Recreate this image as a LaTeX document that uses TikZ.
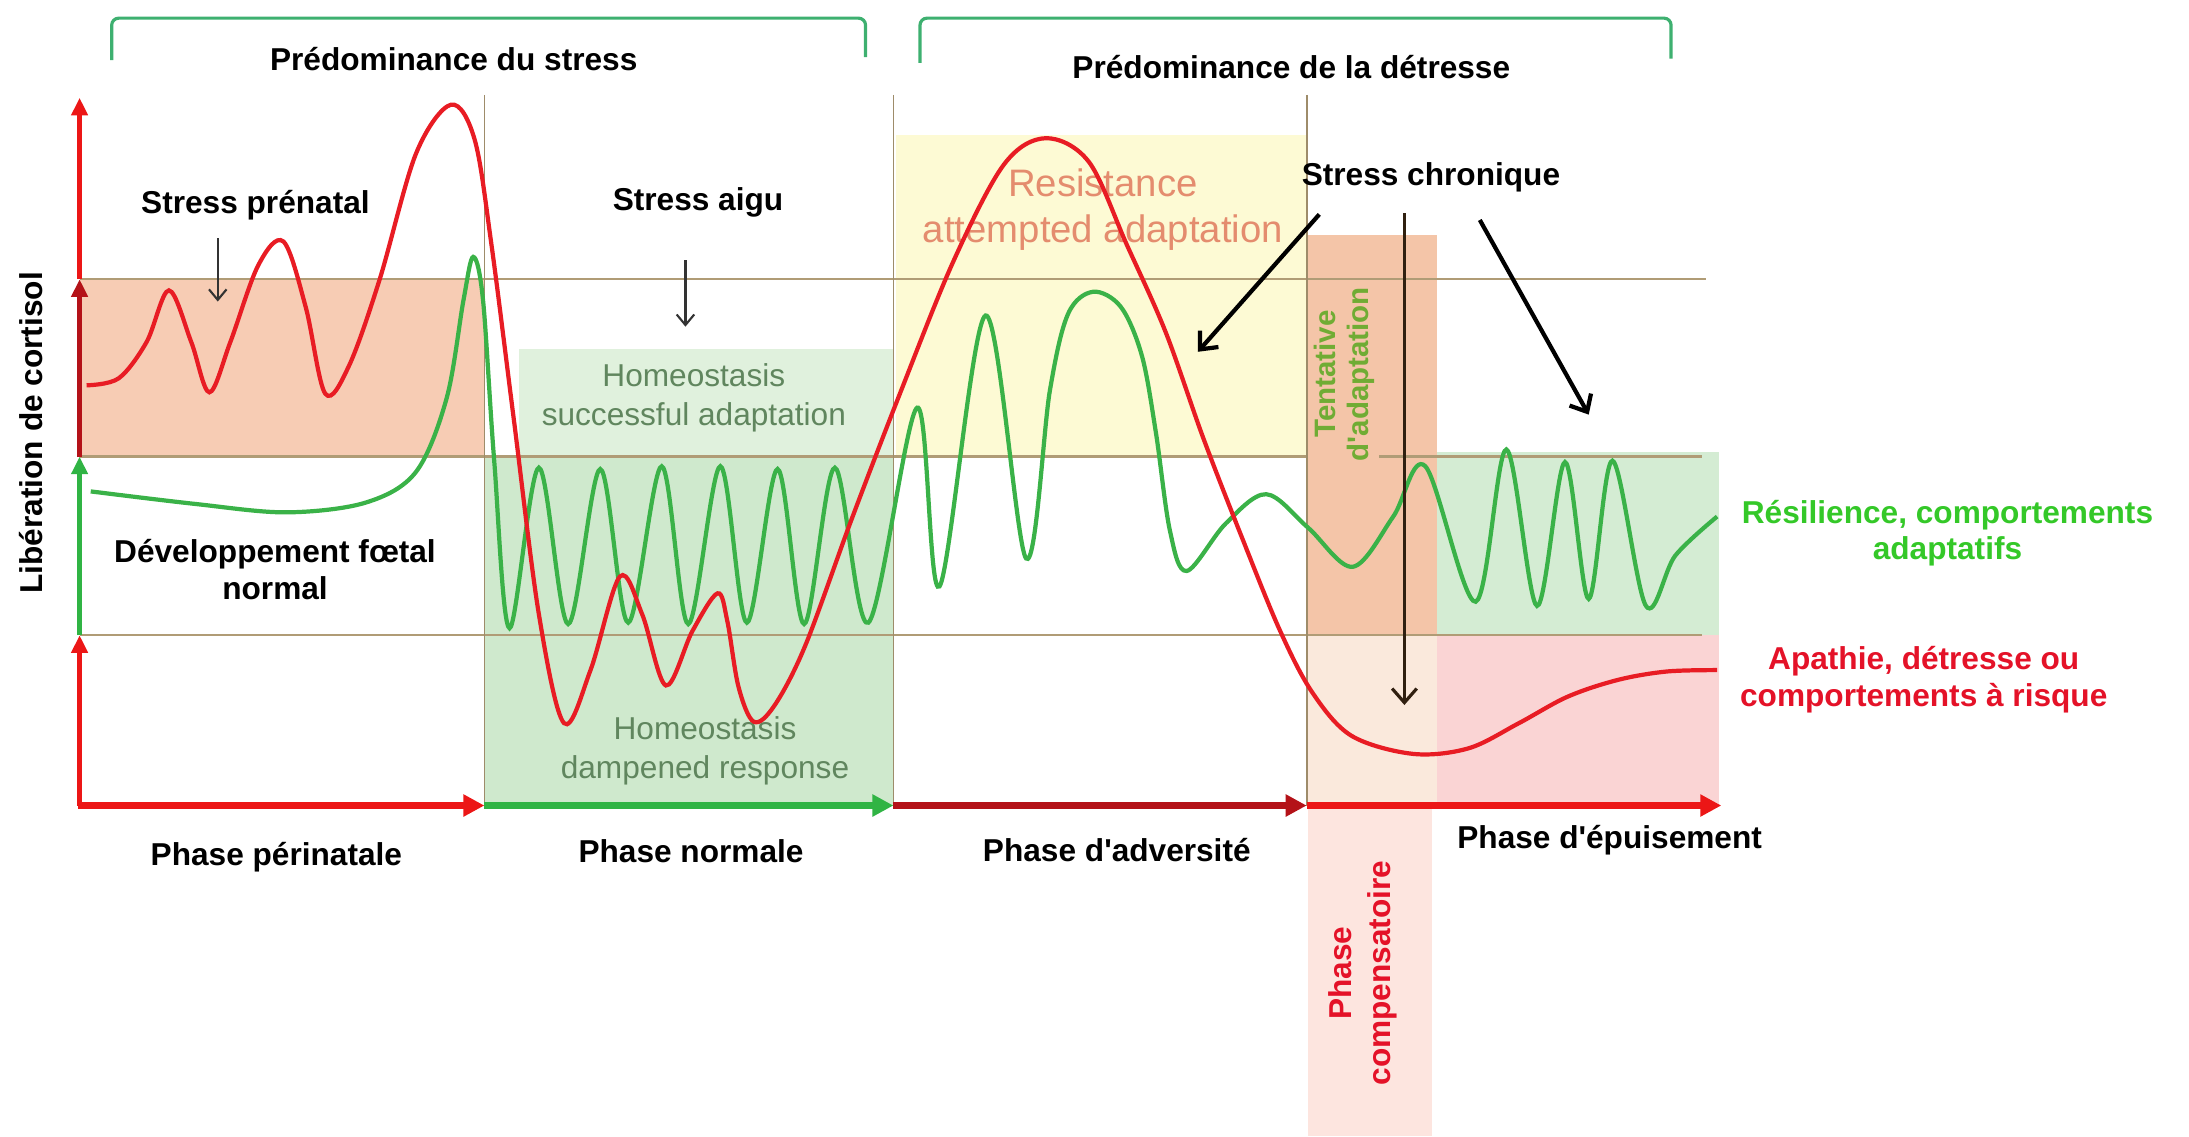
\documentclass[tikz,border=0pt]{standalone}
\usepackage{fontspec}
\setmainfont{Liberation Sans}
\usetikzlibrary{arrows.meta,calc}

\definecolor{curvered}{RGB}{232,28,36}
\definecolor{curvegreen}{RGB}{58,178,72}
\definecolor{axisred}{RGB}{236,22,22}
\definecolor{axisdark}{RGB}{180,18,24}
\definecolor{axisgreen}{RGB}{48,180,68}
\definecolor{guidecol}{RGB}{176,156,118}
\definecolor{bracketcol}{RGB}{62,176,112}
\definecolor{periorange}{RGB}{247,204,180}
\definecolor{homeolight}{RGB}{224,241,221}
\definecolor{homeodark}{RGB}{207,233,205}
\definecolor{resistyellow}{RGB}{253,250,212}
\definecolor{tentorange}{RGB}{244,197,168}
\definecolor{tentbeige}{RGB}{250,233,220}
\definecolor{comppink}{RGB}{253,229,223}
\definecolor{resilgreen}{RGB}{212,236,211}
\definecolor{apathpink}{RGB}{250,212,212}
\definecolor{homeotext}{RGB}{96,134,94}
\definecolor{resisttext}{RGB}{228,140,110}
\definecolor{tenttext}{RGB}{112,172,52}
\definecolor{resiltext}{RGB}{52,200,40}
\definecolor{apathtext}{RGB}{228,18,40}

% cortisol levels and time axis
\newcommand{\levelHigh}{200}
\newcommand{\levelMid}{327}
\newcommand{\levelLow}{455}
\newcommand{\baseY}{577}
\newcommand{\apos}{\textquotesingle}

\tikzset{
  lbl/.style={font=\fontsize{9}{10.4}\selectfont\bfseries, align=center, inner sep=1pt},
  homeo/.style={font=\fontsize{9}{11}\selectfont, text=homeotext, align=center, inner sep=1pt},
  guide/.style={draw=guidecol, line width=0.6pt},
  divider/.style={draw=guidecol!90!black, line width=0.5pt},
  bracket/.style={draw=bracketcol, line width=0.9pt, rounded corners=2pt},
  yaxis/.style={line width=1.3pt, -{Triangle[length=5pt,width=4.5pt]}},
  xaxis/.style={line width=1.8pt, -{Triangle[length=6pt,width=6pt]}},
  curve/.style={line width=1.2pt, smooth, tension=0.55},
  pointer/.style={draw=black!80, line width=0.6pt, -{Straight Barb[length=3pt,width=5pt]}},
  chronic/.style={line width=1.2pt, -{Straight Barb[length=4pt,width=7pt]}},
}

\begin{document}
\begin{tikzpicture}[x=0.01396cm, y=-0.01396cm]
  \useasboundingbox (0,0) rectangle (1568,814);

  % zones
  \fill[periorange] (57,\levelHigh) rectangle (347,\levelMid);
  \fill[homeolight] (372,250) rectangle (640,\levelMid);
  \fill[homeodark] (347,\levelMid) rectangle (640,\baseY);
  \fill[resistyellow] (642,97) rectangle (936,\levelMid);
  \fill[tentorange] (936,168) rectangle (1029,\levelLow);
  \fill[tentbeige] (936,\levelLow) rectangle (1029,\baseY);
  \fill[comppink] (937,\baseY) rectangle (1026,814);
  \fill[resilgreen] (1029,324) rectangle (1231,\levelLow);
  \fill[apathpink] (1029,\levelLow) rectangle (1231,\baseY);

  \draw[guide] (57,\levelHigh) -- (1222,\levelHigh);
  \draw[guide] (57,\levelMid) -- (936,\levelMid) (988,\levelMid) -- (1219,\levelMid);
  \draw[guide] (57,\levelLow) -- (1219,\levelLow);
  \foreach \x in {347,640,936}
    \draw[divider] (\x,68) -- (\x,\baseY);

  \draw[bracket] (80,43) -- (80,13) -- (620,13) -- (620,41);
  \draw[bracket] (659,45) -- (659,13) -- (1197,13) -- (1197,42);

  \node[homeo] (homeoA) at (497,285) {Homeostasis\\successful adaptation};
  \node[homeo] (homeoB) at (505,538) {Homeostasis\\dampened response};
  \node[homeo, font=\fontsize{10.9}{13}\selectfont, text=resisttext] (resistance) at (790,150)
    {Resistance\\attempted adaptation};
  \node[lbl, font=\fontsize{8.4}{9.2}\selectfont\bfseries, text=tenttext, rotate=90] (tentative)
    at (963,268) {Tentative\\d\apos adaptation};
  \node[lbl, text=apathtext, font=\fontsize{9}{11}\selectfont\bfseries, rotate=90] (compensatoire)
    at (976,697) {Phase\\compensatoire};

  % curves
  \draw[curve, curvegreen] plot coordinates {(65,352) (140,361) (205,367) (262,360) (298,338)
    (320,285) (332,215) (339,184) (346,215) (354,330) (365,450) (386,335) (407,447) (430,336)
    (450,446) (474,334) (493,447) (516,334) (535,446) (557,336) (576,447) (598,335) (622,446)
    (657,292) (673,420) (706,226) (735,400) (752,280) (765,225) (783,209) (803,220) (818,255)
    (828,310) (838,380) (850,409) (878,375) (907,354) (937,378) (969,406) (998,370) (1021,334)
    (1057,431) (1079,322) (1101,434) (1121,331) (1138,429) (1155,330) (1179,434) (1200,398)
    (1230,370)};
  \draw[curve, curvered] plot coordinates {(62,276) (85,271) (105,245) (121,208) (137,245)
    (150,281) (165,245) (185,190) (203,173) (219,220) (233,282) (250,262) (272,200) (298,110)
    (323,75) (340,100) (352,175) (368,300) (386,440) (404,518) (423,480) (444,413) (460,440)
    (477,491) (496,452) (514,425) (521,445) (529,492) (540,517) (555,505) (577,462) (610,372)
    (645,281) (683,187) (719,118) (749,99) (780,116) (807,175) (835,238) (862,314) (890,386)
    (917,452) (940,496) (968,527) (1012,540) (1052,536) (1088,518) (1123,499) (1159,487)
    (1194,481) (1230,480)};

  % axes
  \draw[yaxis, axisred] (57,\levelHigh) -- (57,70);
  \draw[yaxis, axisdark] (57,\levelMid) -- (57,\levelHigh);
  \draw[yaxis, axisgreen] (57,\levelLow) -- (57,\levelMid);
  \draw[yaxis, axisred] (57,\baseY) -- (57,\levelLow);
  \draw[xaxis, axisred] (936,\baseY) -- (1233,\baseY);
  \draw[xaxis, axisdark] (640,\baseY) -- (936,\baseY);
  \draw[xaxis, axisgreen] (347,\baseY) -- (640,\baseY);
  \draw[xaxis, axisred] (56,\baseY) -- (347,\baseY);

  % labels
  \node[lbl] (predstress) at (325,42) {Prédominance du stress};
  \node[lbl] (preddetresse) at (925,48) {Prédominance de la détresse};
  \node[lbl] (stressprenatal) at (183,147) {Stress prénatal};
  \node[lbl] (stressaigu) at (500,145) {Stress aigu};
  \node[lbl] (stresschronique) at (1025,127) {Stress chronique};
  \node[lbl] (devfoetal) at (197,408) {Développement fœtal\\normal};
  \node[lbl] (phaseperi) at (198,614) {Phase périnatale};
  \node[lbl] (phasenormale) at (495,610) {Phase normale};
  \node[lbl] (phaseadv) at (800,609) {Phase d\apos adversité};
  \node[lbl] (phaseepuis) at (1153,602) {Phase d\apos épuisement};
  \node[lbl, rotate=90] (cortisol) at (22,310) {Libération de cortisol};
  \node[lbl, text=resiltext] (resilience) at (1395,382) {Résilience, comportements\\adaptatifs};
  \node[lbl, text=apathtext] (apathie) at (1378,487) {Apathie, détresse ou\\comportements à risque};

  % stress arrows
  \coordinate (prenataltip) at (156,216);
  \coordinate (aigutip) at (491,234);
  \coordinate (resisttip) at (858,252);
  \coordinate (comptip) at (1006,505);
  \coordinate (epuistip) at (1138,297);
  \draw[pointer, shorten <=4pt] (stressprenatal.south -| prenataltip) -- (prenataltip);
  \draw[pointer, shorten <=11pt] (stressaigu.south -| aigutip) -- (aigutip);
  \draw[chronic] ($(stresschronique.south)+(-80,13)$) -- (resisttip);
  \draw[chronic, draw=black!75!brown, line width=0.9pt] ($(stresschronique.south)+(-19,12)$) -- (comptip);
  \draw[chronic] ($(stresschronique.south)+(35,17)$) -- (epuistip);
\end{tikzpicture}
\end{document}
